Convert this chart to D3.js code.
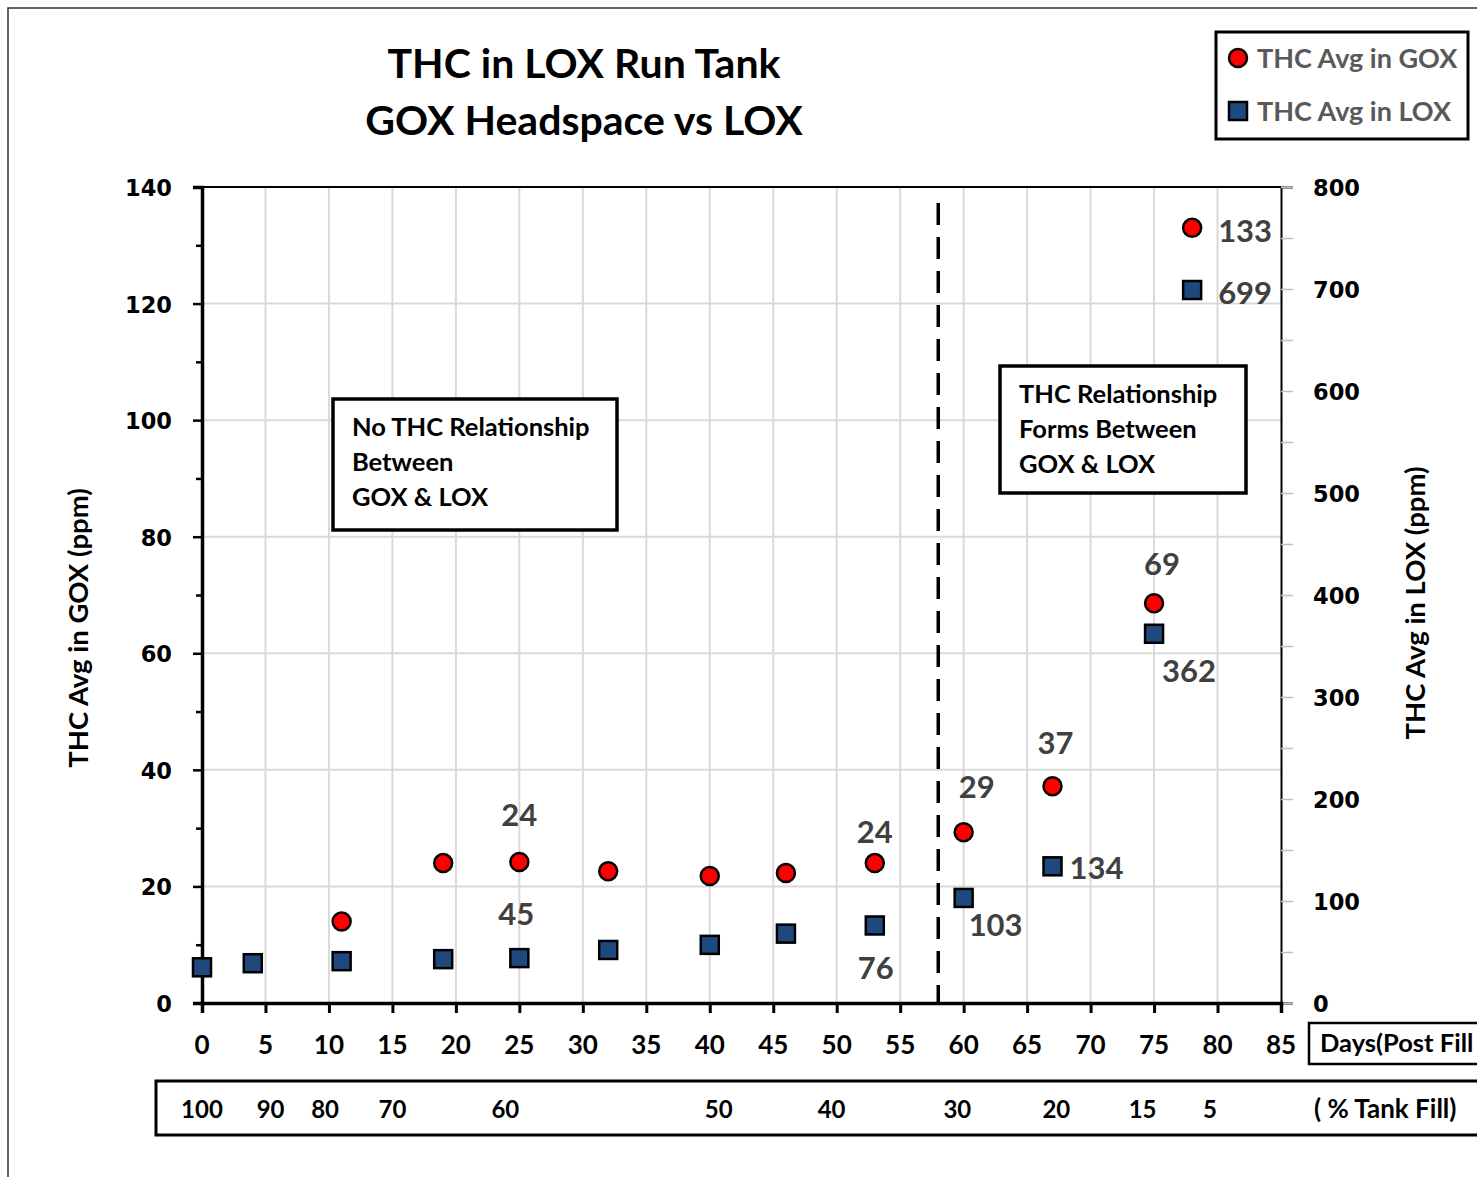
<!DOCTYPE html>
<html><head><meta charset="utf-8">
<script src="https://cdn.jsdelivr.net/npm/d3@7"></script>
<style>body{margin:0;background:#fff}</style>
</head><body>
<script>
// ---- data ----
const goxDays = [11, 19, 25, 32, 40, 46, 53, 60, 67, 75, 78];
const goxValues = [14, 24, 24.2, 22.6, 21.8, 22.3, 24, 29.3, 37.2, 68.6, 133];
const loxDays = [0, 4, 11, 19, 25, 32, 40, 46, 53, 60, 67, 75, 78];
const loxValues = [35, 39, 41, 43, 44, 52, 57, 68, 76, 103, 134, 362, 699];
const leftTicks = [0, 20, 40, 60, 80, 100, 120, 140];
const rightTicks = [0, 100, 200, 300, 400, 500, 600, 700, 800];
const xTicks = d3.range(0, 90, 5);
const tankFillLabels = ["100", "90", "80", "70", "60", "50", "40", "30", "20", "15", "5"];
const tankFillDays = [0, 5.4, 9.7, 15, 23.9, 40.7, 49.6, 59.5, 67.3, 74.1, 79.4];
// data labels: [index, text, dx, dy, anchor]
const goxLabels = [[2, "24", 0, -36, "middle"], [6, "24", 0, -20, "middle"], [7, "29", 13, -34, "middle"], [8, "37", 3, -32, "middle"], [9, "69", 8, -28, "middle"], [10, "133", 26, 14, "start"]];
const loxLabels = [[4, "45", -3, -33, "middle"], [8, "76", 1, 54, "middle"], [9, "103", 5, 38, "start"], [10, "134", 17, 13, "start"], [11, "362", 8, 48, "start"], [12, "699", 26, 14, "start"]];

const W = 1477, H = 1177;
const svg = d3.select("body").append("svg").attr("width", W).attr("height", H);
const fNarrow = "Lato, 'Open Sans', sans-serif";
const fWide = "'DejaVu Sans', Verdana, sans-serif";

const L = 202, R = 1281, T = 187, B = 1003;
const x = d3.scaleLinear().domain([0, 85]).range([L, R]);
const yL = d3.scaleLinear().domain([0, 140]).range([B, T]);
const yR = d3.scaleLinear().domain([0, 800]).range([B, T]);

// outer border
svg.append("path").attr("d", `M8,${H} L8,8 L${W},8`).attr("fill", "none").attr("stroke", "#333").attr("stroke-width", 1.5);

// gridlines
svg.append("g").selectAll("line").data(leftTicks.filter(d => d > 0 && d < 140)).join("line")
  .attr("x1", L).attr("x2", R).attr("y1", d => yL(d)).attr("y2", d => yL(d))
  .attr("stroke", "#d9d9d9").attr("stroke-width", 2);
svg.append("g").selectAll("line").data(xTicks.filter(d => d > 0 && d < 85)).join("line")
  .attr("x1", d => x(d)).attr("x2", d => x(d)).attr("y1", T).attr("y2", B)
  .attr("stroke", "#d9d9d9").attr("stroke-width", 2);

// top frame
svg.append("line").attr("x1", L).attr("x2", R).attr("y1", T).attr("y2", T).attr("stroke", "#000").attr("stroke-width", 2);

// left axis
const gL = svg.append("g").attr("transform", `translate(${L},0)`);
gL.call(d3.axisLeft(yL).tickValues(d3.range(0, 141, 10)).tickSize(9).tickFormat(""));
gL.select(".domain").attr("stroke-width", 3.5);
gL.selectAll(".tick line").attr("stroke-width", 2.5);
gL.selectAll(".tick").filter(d => d % 20 !== 0).select("line").attr("x2", -6);
svg.append("g").selectAll("text").data(leftTicks).join("text")
  .attr("x", 172).attr("y", d => yL(d) + 9).attr("text-anchor", "end")
  .attr("font-family", fWide).attr("font-weight", "bold").attr("font-size", 22.5).text(d => d);

// right axis
const gR = svg.append("g").attr("transform", `translate(${R},0)`);
gR.call(d3.axisRight(yR).tickValues(d3.range(0, 801, 50)).tickSize(12).tickFormat(""));
gR.select(".domain").attr("stroke", "#000").attr("stroke-width", 2);
gR.selectAll(".tick line").attr("stroke", "#bfbfbf").attr("stroke-width", 1.5);
svg.append("g").selectAll("text").data(rightTicks).join("text")
  .attr("x", 1313).attr("y", d => yR(d) + 9).attr("text-anchor", "start")
  .attr("font-family", fWide).attr("font-weight", "bold").attr("font-size", 22.5).text(d => d);

// bottom axis
const gB = svg.append("g").attr("transform", `translate(0,${B})`);
gB.call(d3.axisBottom(x).tickValues(xTicks).tickSize(10).tickFormat(""));
gB.select(".domain").attr("stroke-width", 3.5);
gB.selectAll(".tick line").attr("stroke-width", 3);
svg.append("g").selectAll("text").data(xTicks).join("text")
  .attr("x", d => x(d)).attr("y", 1054).attr("text-anchor", "middle")
  .attr("font-family", fNarrow).attr("font-weight", "bold").attr("font-size", 26).text(d => d);

// Days box
svg.append("rect").attr("x", 1309).attr("y", 1023).attr("width", 200).attr("height", 41)
  .attr("fill", "#fff").attr("stroke", "#000").attr("stroke-width", 2.5);
svg.append("text").attr("x", 1320).attr("y", 1052).attr("font-family", fNarrow).attr("font-weight", "bold")
  .attr("font-size", 25.5).text("Days(Post Fill");

// Tank fill row
svg.append("rect").attr("x", 156).attr("y", 1081).attr("width", 1400).attr("height", 54)
  .attr("fill", "none").attr("stroke", "#000").attr("stroke-width", 3);
svg.append("g").selectAll("text").data(tankFillLabels).join("text")
  .attr("x", (d, i) => x(tankFillDays[i])).attr("y", 1118).attr("text-anchor", "middle")
  .attr("font-family", fNarrow).attr("font-weight", "bold").attr("font-size", 24).text(d => d);
svg.append("text").attr("x", 1314).attr("y", 1118).attr("font-family", fNarrow).attr("font-weight", "bold")
  .attr("font-size", 26).text("( % Tank Fill)");

// dashed line
svg.append("line").attr("x1", x(58)).attr("x2", x(58)).attr("y1", 203).attr("y2", B)
  .attr("stroke", "#000").attr("stroke-width", 3.5).attr("stroke-dasharray", "22,12");

// annotation boxes
function noteBox(bx, by, bw, bh, lines) {
  svg.append("rect").attr("x", bx).attr("y", by).attr("width", bw).attr("height", bh)
    .attr("fill", "#fff").attr("stroke", "#000").attr("stroke-width", 3.5);
  lines.forEach((t, i) => svg.append("text").attr("x", bx + 19).attr("y", by + 37 + i * 35)
    .attr("font-family", fNarrow).attr("font-weight", "bold").attr("font-size", 25.5).text(t));
}
noteBox(333, 399, 284, 131, ["No THC Relationship", "Between", "GOX & LOX"]);
noteBox(1000, 366, 246, 127, ["THC Relationship", "Forms Between", "GOX & LOX"]);

// markers
const loxData = loxDays.map((d, i) => ({ d, v: loxValues[i] }));
const goxData = goxDays.map((d, i) => ({ d, v: goxValues[i] }));
svg.append("g").selectAll("rect").data(loxData).join("rect")
  .attr("x", p => x(p.d) - 9).attr("y", p => yR(p.v) - 9).attr("width", 18).attr("height", 18)
  .attr("fill", "#1f497d").attr("stroke", "#000").attr("stroke-width", 2.5);
svg.append("g").selectAll("circle").data(goxData).join("circle")
  .attr("cx", p => x(p.d)).attr("cy", p => yL(p.v)).attr("r", 9)
  .attr("fill", "#ff0000").attr("stroke", "#000").attr("stroke-width", 2.5);

// data labels
function dataLabels(labels, data, yScale) {
  svg.append("g").selectAll("text").data(labels).join("text")
    .attr("x", l => x(data[l[0]].d) + l[2]).attr("y", l => yScale(data[l[0]].v) + l[3])
    .attr("text-anchor", l => l[4]).attr("font-family", fNarrow).attr("font-weight", "bold")
    .attr("font-size", 31).attr("fill", "#404040").text(l => l[1]);
}
dataLabels(goxLabels, goxData, yL);
dataLabels(loxLabels, loxData, yR);

// title
svg.append("text").attr("x", 584).attr("y", 78).attr("text-anchor", "middle").attr("font-family", fNarrow)
  .attr("font-weight", "bold").attr("font-size", 41).text("THC in LOX Run Tank");
svg.append("text").attr("x", 584).attr("y", 135).attr("text-anchor", "middle").attr("font-family", fNarrow)
  .attr("font-weight", "bold").attr("font-size", 41).text("GOX Headspace vs LOX");

// axis titles
svg.append("text").attr("transform", "translate(88,628) rotate(-90)").attr("text-anchor", "middle")
  .attr("font-family", fNarrow).attr("font-weight", "bold").attr("font-size", 27.5).text("THC Avg in GOX (ppm)");
svg.append("text").attr("transform", "translate(1425,603) rotate(-90)").attr("text-anchor", "middle")
  .attr("font-family", fNarrow).attr("font-weight", "bold").attr("font-size", 27.5).text("THC Avg in LOX (ppm)");

// legend
svg.append("rect").attr("x", 1216).attr("y", 32).attr("width", 252).attr("height", 107)
  .attr("fill", "#fff").attr("stroke", "#000").attr("stroke-width", 3);
svg.append("circle").attr("cx", 1238).attr("cy", 58).attr("r", 9).attr("fill", "#ff0000").attr("stroke", "#000").attr("stroke-width", 2.5);
svg.append("rect").attr("x", 1229).attr("y", 102).attr("width", 18).attr("height", 18).attr("fill", "#1f497d").attr("stroke", "#000").attr("stroke-width", 2.5);
svg.append("text").attr("x", 1257).attr("y", 68).attr("font-family", fNarrow).attr("font-weight", "bold")
  .attr("font-size", 27).attr("fill", "#595959").text("THC Avg in GOX");
svg.append("text").attr("x", 1257).attr("y", 121).attr("font-family", fNarrow).attr("font-weight", "bold")
  .attr("font-size", 27).attr("fill", "#595959").text("THC Avg in LOX");
</script>
</body></html>
